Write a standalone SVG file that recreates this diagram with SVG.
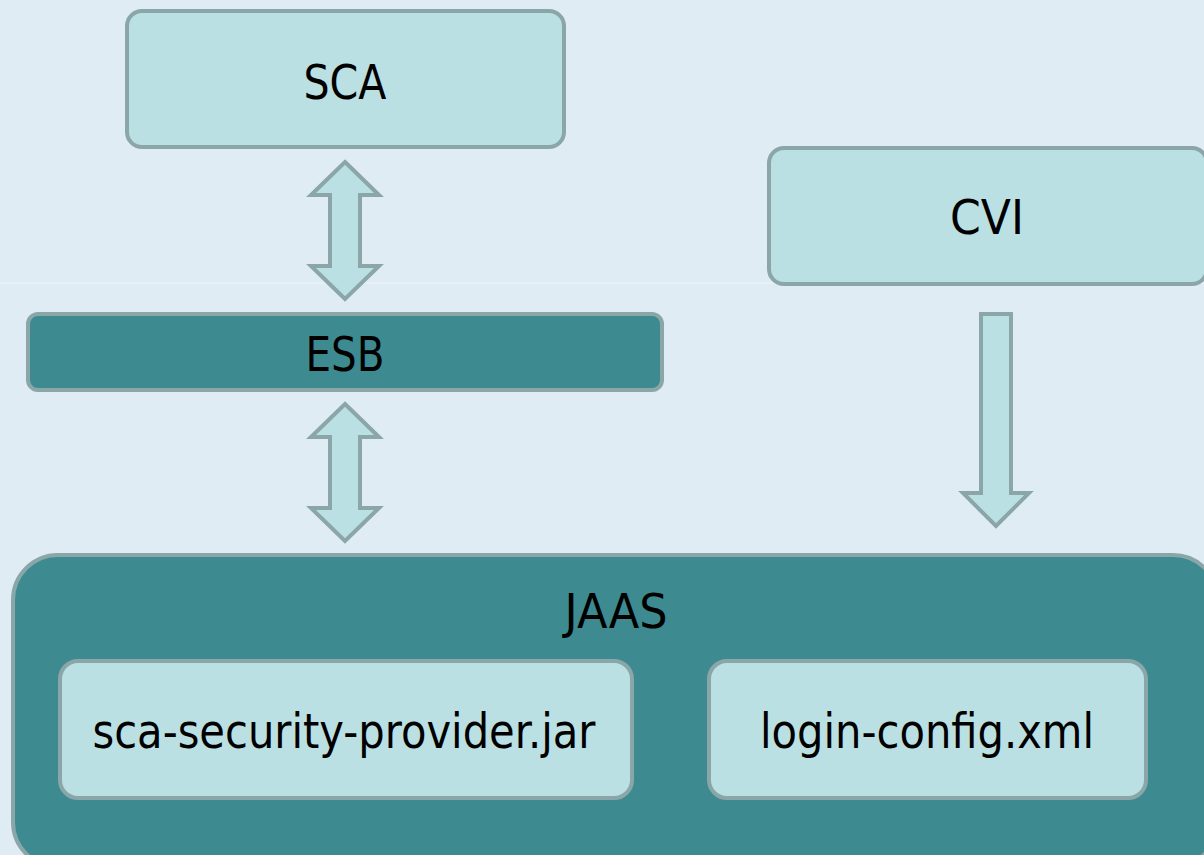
<svg xmlns="http://www.w3.org/2000/svg" width="1204" height="855" viewBox="0 0 1204 855">
<style>
.light{fill:#bae0e3;stroke:#8aa6a8;stroke-width:4}
.dark{fill:#3d8b90;stroke:#8aa6a8;stroke-width:4}
.arrow{fill:#bae0e3;stroke:#8aa6a8;stroke-width:4;stroke-linejoin:miter}
text{font-family:"DejaVu Sans","Liberation Sans",sans-serif;font-size:48px;fill:#000;text-anchor:middle}
</style>
<rect x="0" y="0" width="1204" height="855" fill="#dfecf3"/>
<line x1="0" y1="283" x2="1204" y2="283" stroke="#e9f2f7" stroke-width="1.5"/>
<g id="connectors">
<path class="arrow" d="M345,162 L379,195 L360,195 L360,266 L379,266 L345,299 L311,266 L330,266 L330,195 L311,195 Z"/>
<path class="arrow" d="M345,404 L379,437 L360,437 L360,508 L379,508 L345,541 L311,508 L330,508 L330,437 L311,437 Z"/>
<path class="arrow" d="M981,314 L1011,314 L1011,493 L1029,493 L996,526 L963,493 L981,493 Z"/>
</g>
<g id="sca">
<rect class="light" x="127" y="11" width="437" height="136" rx="15"/>
<text x="345" y="99" textLength="83" lengthAdjust="spacingAndGlyphs">SCA</text>
</g>
<g id="esb">
<rect class="dark" x="28" y="314" width="634" height="76" rx="10"/>
<text x="345" y="371" textLength="79" lengthAdjust="spacingAndGlyphs">ESB</text>
</g>
<g id="cvi">
<rect class="light" x="769" y="148" width="438" height="136" rx="15"/>
<text x="987" y="234" textLength="74" lengthAdjust="spacingAndGlyphs">CVI</text>
</g>
<g id="jaas">
<rect class="dark" x="13" y="555" width="1205" height="312" rx="45"/>
<text x="616" y="628" textLength="103" lengthAdjust="spacingAndGlyphs">JAAS</text>
</g>
<g id="sca-security-provider">
<rect class="light" x="60" y="661" width="572" height="137" rx="18"/>
<text x="344" y="748" textLength="503" lengthAdjust="spacingAndGlyphs">sca-security-provider.jar</text>
</g>
<g id="login-config">
<rect class="light" x="709" y="661" width="437" height="137" rx="18"/>
<text x="927" y="748" textLength="334" lengthAdjust="spacingAndGlyphs">login-config.xml</text>
</g>
</svg>
